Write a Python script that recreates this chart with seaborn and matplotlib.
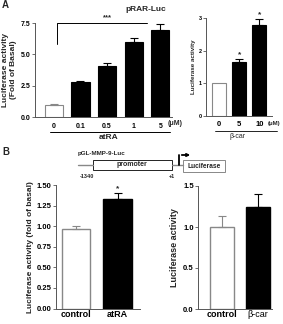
import numpy as np
import pandas as pd
import matplotlib
matplotlib.use("Agg")
import matplotlib.pyplot as plt
import seaborn as sns
from matplotlib.patches import Rectangle, FancyArrowPatch

sns.set_style("ticks")
plt.rcParams['font.family'] = ['Liberation Sans', 'DejaVu Sans']
plt.rcParams['font.weight'] = 'bold'

# data
atra_doses = ["0", "0.1", "0.5", "1", "5"]
atra_vals = [0.97, 2.8, 4.1, 6.0, 6.94]
atra_err = [0.04, 0.1, 0.2, 0.28, 0.5]

bcar_doses = ["0", "5", "10"]
bcar_vals = [1.0, 1.66, 2.79]
bcar_err = [0.0, 0.08, 0.17]

mmp_atra_groups = ["control", "atRA"]
mmp_atra_vals = [0.96, 1.33]
mmp_atra_err = [0.04, 0.07]

mmp_bcar_groups = ["control", "β-car"]
mmp_bcar_vals = [1.0, 1.25]
mmp_bcar_err = [0.14, 0.15]

W, H = 283, 324
fig = plt.figure(figsize=(W / 100, H / 100), dpi=100)


def px_axes(x0, y_top, x1, y_bot):
    return fig.add_axes([x0 / W, 1 - y_bot / H, (x1 - x0) / W, (y_bot - y_top) / H])


def bars(ax, cats, vals, errs, width, lw=0.8):
    df = pd.DataFrame({"cat": cats, "val": vals})
    colors = ["white"] + ["black"] * (len(cats) - 1)
    sns.barplot(data=df, x="cat", y="val", hue="cat", palette=colors, legend=False,
                width=width, edgecolor="#888888", linewidth=lw, ax=ax)
    for p in ax.patches:
        if p.get_facecolor()[0] < 0.5:
            p.set_edgecolor("black")
    for i, (v, e) in enumerate(zip(vals, errs)):
        if e <= 0:
            continue
        c = "#888888" if i == 0 else "black"
        ax.errorbar([i], [v], yerr=[[0], [e]], fmt="none", ecolor=c,
                    elinewidth=0.8, capsize=3, capthick=0.8)
    ax.set_xlabel("")
    sns.despine(ax=ax)
    ax.tick_params(length=2, width=0.6, pad=1, colors="#555555", labelcolor="black")
    for s in ["left", "bottom"]:
        ax.spines[s].set_linewidth(0.7)
        ax.spines[s].set_color("#555555")
    ax.set_xticks(range(len(cats)))


# ---- Panel A left
ax1 = px_axes(35, 23, 172, 117)
bars(ax1, atra_doses, atra_vals, atra_err, 0.68)
ax1.set_xlim(-0.71, 4.44)
ax1.set_ylim(0, 7.5)
ax1.set_yticks([0, 2.5, 5.0, 7.5])
ax1.set_yticklabels(["0.0", "2.5", "5.0", "7.5"], fontsize=5, fontweight="bold")
ax1.set_xticklabels(atra_doses, fontsize=5, fontweight="bold")
ax1.tick_params(axis="x", length=0, pad=4)
ax1.set_ylabel("Luciferase activity\n(Fold of Basal)", fontsize=6, fontweight="bold",
               labelpad=3, linespacing=1.1)
ax1.text(3.46, 8.6, "pRAR-Luc", ha="center", va="center", fontsize=6, fontweight="bold")
ax1.plot([0.11, 0.11, 3.5], [5.85, 7.5, 7.5], color="black", lw=0.7, clip_on=False)
ax1.text(2.0, 7.65, "***", ha="center", va="bottom", fontsize=5.5, fontweight="bold")
ax1.text(4.27, -0.55, "(μM)", ha="left", va="center", fontsize=5, fontweight="bold")
ax1.plot([-0.15, 4.36], [-1.17, -1.17], color="black", lw=0.7, clip_on=False)
ax1.text(2.07, -1.6, "atRA", ha="center", va="center", fontsize=6, fontweight="bold")
fig.text(2 / W, 1 - 5 / H, "A", fontsize=7, fontweight="bold", va="center")

# ---- Panel A right
ax2 = px_axes(205.7, 18, 272, 116)
bars(ax2, bcar_doses, bcar_vals, bcar_err, 0.69)
ax2.set_xlim(-0.66, 2.62)
ax2.set_ylim(0, 3)
ax2.set_yticks([0, 1, 2, 3])
ax2.set_yticklabels(["0", "1", "2", "3"], fontsize=4, fontweight="bold")
ax2.set_xticklabels(bcar_doses, fontsize=5.5, fontweight="bold")
ax2.tick_params(axis="x", length=0, pad=3.5)
ax2.set_ylabel("Luciferase activity", fontsize=4.5, fontweight="bold", labelpad=2)
for i in [1, 2]:
    ax2.text(i, bcar_vals[i] + bcar_err[i] + 0.03, "*", ha="center", va="bottom",
             fontsize=6, fontweight="bold")
ax2.text(2.42, -0.22, "(μM)", ha="left", va="center", fontsize=4.3, fontweight="bold")
ax2.plot([-0.2, 2.86], [-0.46, -0.46], color="black", lw=0.6, clip_on=False)
ax2.text(0.94, -0.64, "β-car", ha="center", va="center", fontsize=5, fontweight="normal")

# ---- Promoter construct diagram
fig.text(2 / W, 1 - 152 / H, "B", fontsize=7, fontweight="bold", va="center")
fig.text(78 / W, 1 - 153 / H, "pGL-MMP-9-Luc", fontsize=4.5, va="center")
fig.add_artist(plt.Line2D([78 / W, 93 / W], [1 - 165 / H, 1 - 165 / H], color="#888888", lw=1.0))
fig.add_artist(Rectangle((93 / W, 1 - 170 / H), 79 / W, 10 / H, fill=False, ec="black", lw=0.6,
                         transform=fig.transFigure))
fig.text(132 / W, 1 - 164 / H, "promoter", fontsize=5, ha="center", va="center")
fig.add_artist(plt.Line2D([172 / W, 183 / W], [1 - 165 / H, 1 - 165 / H], color="#888888", lw=1.0))
fig.add_artist(Rectangle((183 / W, 1 - 172 / H), 42 / W, 12 / H, fill=False, ec="#888888", lw=0.7,
                         transform=fig.transFigure))
fig.text(204 / W, 1 - 166 / H, "Luciferase", fontsize=4.8, ha="center", va="center")
fig.add_artist(plt.Line2D([179 / W, 179 / W], [1 - 165 / H, 1 - 155 / H], color="black", lw=1.3))
fig.add_artist(FancyArrowPatch((179 / W, 1 - 155 / H), (193 / W, 1 - 155 / H),
                               arrowstyle="-|>", mutation_scale=4, lw=1.3, color="black",
                               transform=fig.transFigure))
fig.text(87 / W, 1 - 176 / H, "-1340", fontsize=4, ha="center", va="center")
fig.text(172 / W, 1 - 176 / H, "+1", fontsize=4, ha="center", va="center")

# ---- Panel B left
ax3 = px_axes(56, 185, 140, 308.5)
bars(ax3, mmp_atra_groups, mmp_atra_vals, mmp_atra_err, 0.69, lw=1.0)
ax3.set_xlim(-0.48, 1.54)
ax3.set_ylim(0, 1.5)
ax3.set_yticks([0, 0.25, 0.5, 0.75, 1.0, 1.25, 1.5])
ax3.set_yticklabels(["0.00", "0.25", "0.50", "0.75", "1.00", "1.25", "1.50"],
                    fontsize=5.5, fontweight="bold")
ax3.set_xticklabels(mmp_atra_groups, fontsize=6.5, fontweight="bold")
ax3.tick_params(axis="x", length=0, pad=1)
ax3.set_ylabel("Luciferase activity (fold of basal)", fontsize=6, fontweight="bold", labelpad=2)
ax3.text(1, mmp_atra_vals[1] + mmp_atra_err[1] + 0.01, "*", ha="center", va="bottom",
         fontsize=6, fontweight="bold")

# ---- Panel B right
ax4 = px_axes(198, 186, 272, 309)
bars(ax4, mmp_bcar_groups, mmp_bcar_vals, mmp_bcar_err, 0.67, lw=1.0)
ax4.set_xlim(-0.68, 1.4)
ax4.set_ylim(0, 1.5)
ax4.set_yticks([0, 0.5, 1.0, 1.5])
ax4.set_yticklabels(["0.0", "0.5", "1.0", "1.5"], fontsize=5.5, fontweight="bold")
ax4.set_xticklabels(mmp_bcar_groups, fontsize=6.5, fontweight="bold")
ax4.get_xticklabels()[1].set_fontweight("normal")
ax4.tick_params(axis="x", length=0, pad=1)
ax4.set_ylabel("Luciferase activity", fontsize=6.5, fontweight="bold", labelpad=3)

fig.savefig("out.png", dpi=100)
